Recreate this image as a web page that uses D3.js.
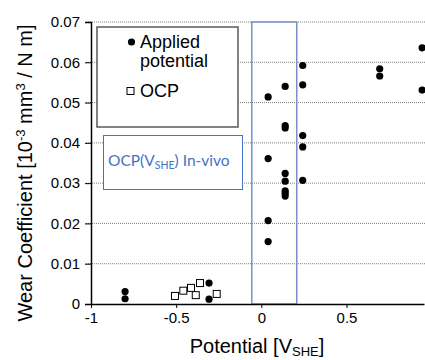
<!DOCTYPE html>
<html>
<head>
<meta charset="utf-8">
<script src="https://cdn.jsdelivr.net/npm/d3@7"></script>
<style>
  html, body { margin: 0; padding: 0; background: #fff; }
  svg { display: block; }
</style>
</head>
<body>
<div id="chart"></div>
<script>
// ---------------------------------------------------------------------------
// Wear coefficient vs potential — scatter with OCP in-vivo band
// ---------------------------------------------------------------------------

// applied potential points: [potential V_SHE, wear coefficient]
const applied = [
  [-0.8, 0.0031], [-0.8, 0.0013],
  [-0.307, 0.0052], [-0.307, 0.0012],
  [0.04, 0.0514], [0.04, 0.0361], [0.04, 0.0207], [0.04, 0.0155],
  [0.14, 0.0540], [0.14, 0.0443], [0.14, 0.0437], [0.14, 0.0324],
  [0.14, 0.0305], [0.14, 0.0281], [0.14, 0.0275], [0.14, 0.0268],
  [0.243, 0.0592], [0.243, 0.0544], [0.243, 0.0418], [0.243, 0.0390], [0.243, 0.0307],
  [0.695, 0.0584], [0.695, 0.0566],
  [0.944, 0.0636], [0.944, 0.0531],
];

// open circuit potential points
const ocp = [
  [-0.507, 0.0020], [-0.458, 0.0033], [-0.413, 0.0040],
  [-0.385, 0.0022], [-0.36, 0.0052], [-0.262, 0.0025],
];

const xTicks = [-1, -0.5, 0, 0.5];
const yTicks = [0, 0.01, 0.02, 0.03, 0.04, 0.05, 0.06, 0.07];
const invivoBand = [-0.056, 0.208];

const width = 425;
const height = 360;

const x = d3.scaleLinear().domain([-1, 0.955]).range([91, 424]);
const y = d3.scaleLinear().domain([0, 0.07]).range([304, 22]);

const svg = d3.select('#chart').append('svg')
  .attr('width', width).attr('height', height)
  .style('font-family', '"Liberation Sans", Arial, sans-serif');

// dotted gridlines
svg.append('g')
  .selectAll('line')
  .data(yTicks.filter((d) => d > 0))
  .join('line')
  .attr('x1', 86).attr('x2', width)
  .attr('y1', (d) => y(d)).attr('y2', (d) => y(d))
  .attr('stroke', '#808080')
  .attr('stroke-width', 1)
  .attr('stroke-dasharray', '1,1');

// in-vivo OCP band
svg.append('rect')
  .attr('x', x(invivoBand[0]))
  .attr('y', y(0.07))
  .attr('width', x(invivoBand[1]) - x(invivoBand[0]))
  .attr('height', y(0) - y(0.07))
  .attr('fill', 'none')
  .attr('stroke', '#7393cc')
  .attr('stroke-width', 1.5);

// y axis
const yAxis = svg.append('g')
  .attr('transform', `translate(${x(-1)},0)`)
  .call(d3.axisLeft(y).tickValues(yTicks).tickSize(6).tickFormat((d) => d === 0 ? '0' : d3.format('.2f')(d)));
yAxis.select('.domain').attr('stroke', '#000').attr('stroke-width', 1.5);
yAxis.selectAll('.tick line').attr('stroke', '#000').attr('stroke-width', 1);
yAxis.selectAll('.tick text')
  .attr('x', -11)
  .style('font-size', '15px')
  .style('font-family', '"Liberation Sans", Arial, sans-serif')
  .attr('fill', '#000');

// x axis
const xAxis = svg.append('g')
  .attr('transform', `translate(0,${y(0)})`)
  .call(d3.axisBottom(x).tickValues(xTicks).tickSize(4).tickSizeOuter(0).tickFormat((d) => String(d)));
xAxis.select('.domain').attr('stroke', '#000').attr('stroke-width', 1.5);
xAxis.selectAll('.tick line').attr('stroke', '#000').attr('stroke-width', 1);
xAxis.selectAll('.tick text')
  .attr('y', 8)
  .style('font-size', '15px')
  .style('font-family', '"Liberation Sans", Arial, sans-serif')
  .attr('fill', '#000');

// OCP squares
svg.append('g')
  .selectAll('rect')
  .data(ocp)
  .join('rect')
  .attr('x', (d) => x(d[0]) - 3.5)
  .attr('y', (d) => y(d[1]) - 3.5)
  .attr('width', 7).attr('height', 7)
  .attr('fill', '#fff')
  .attr('stroke', '#000')
  .attr('stroke-width', 1);

// applied potential circles
svg.append('g')
  .selectAll('circle')
  .data(applied)
  .join('circle')
  .attr('cx', (d) => x(d[0]))
  .attr('cy', (d) => y(d[1]))
  .attr('r', 3.6)
  .attr('fill', '#000');

// legend
const legend = svg.append('g');
legend.append('rect')
  .attr('x', 97).attr('y', 27).attr('width', 141).attr('height', 100)
  .attr('fill', '#fff').attr('stroke', '#595959').attr('stroke-width', 1.5);
legend.append('circle').attr('cx', 131.5).attr('cy', 42).attr('r', 3.6).attr('fill', '#000');
legend.append('rect').attr('x', 127).attr('y', 87.5).attr('width', 7).attr('height', 7)
  .attr('fill', '#fff').attr('stroke', '#000').attr('stroke-width', 1);
const legText = legend.append('text').style('font-size', '18px').attr('fill', '#000');
legText.append('tspan').attr('x', 140).attr('y', 48).text('Applied');
legText.append('tspan').attr('x', 140).attr('y', 67).text('potential');
legend.append('text').style('font-size', '18px').attr('x', 140).attr('y', 97).attr('fill', '#000').text('OCP');

// in-vivo label box
svg.append('rect')
  .attr('x', 103.5).attr('y', 135.5).attr('width', 139).attr('height', 54)
  .attr('fill', '#fff').attr('stroke', '#4472c4').attr('stroke-width', 1);
const boxText = svg.append('text')
  .attr('x', 108).attr('y', 166)
  .style('font-family', 'Lato, "Open Sans", sans-serif')
  .style('font-size', '15.5px')
  .attr('fill', '#4472c4');
boxText.append('tspan').text('OCP(V');
boxText.append('tspan').attr('dy', 3).style('font-size', '10.5px').text('SHE');
boxText.append('tspan').attr('dy', -3).text(') In-vivo');

// axis titles
const yTitle = svg.append('text')
  .attr('transform', `translate(32,${(y(0) + y(0.07)) / 2 + 10}) rotate(-90)`)
  .attr('text-anchor', 'middle')
  .style('font-size', '20px')
  .attr('fill', '#000');
yTitle.append('tspan').text('Wear Coefficient [10');
yTitle.append('tspan').attr('dy', -7).style('font-size', '13px').text('-3');
yTitle.append('tspan').attr('dy', 7).text(' mm');
yTitle.append('tspan').attr('dy', -7).style('font-size', '13px').text('3');
yTitle.append('tspan').attr('dy', 7).text(' / N m]');

const xTitle = svg.append('text')
  .attr('x', 257).attr('y', 353)
  .attr('text-anchor', 'middle')
  .style('font-size', '20px')
  .attr('fill', '#000');
xTitle.append('tspan').text('Potential [V');
xTitle.append('tspan').attr('dy', 3).style('font-size', '13px').text('SHE');
xTitle.append('tspan').attr('dy', -3).text(']');
</script>
</body>
</html>
